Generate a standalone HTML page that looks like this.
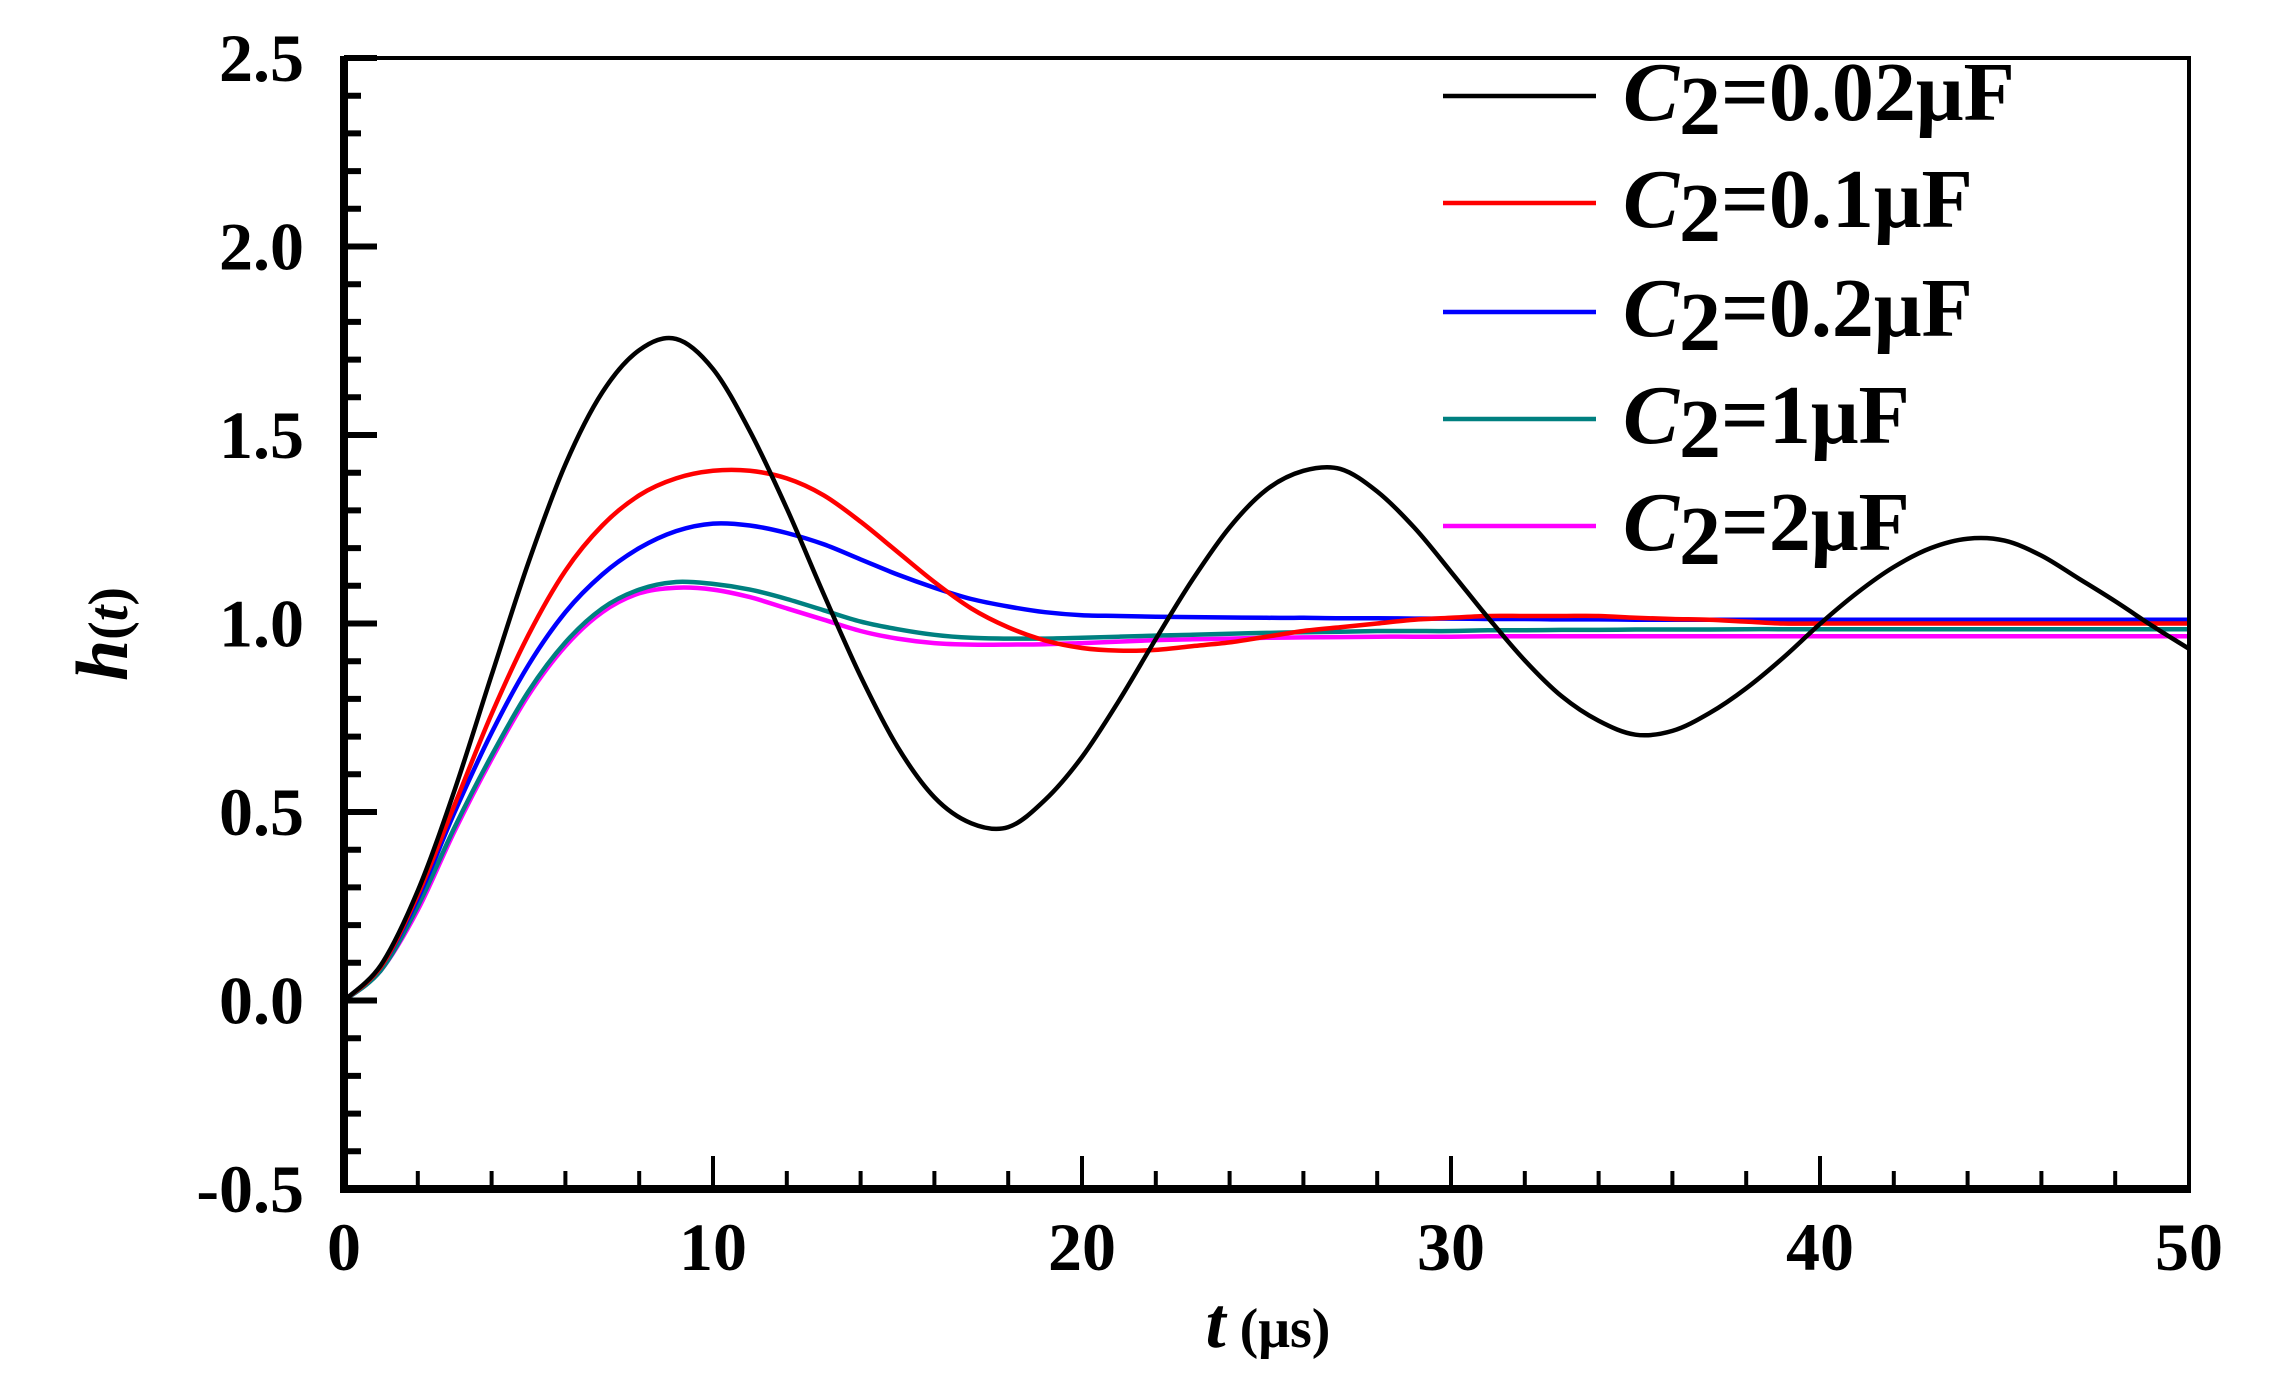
<!DOCTYPE html>
<html><head><meta charset="utf-8"><style>
html,body{margin:0;padding:0;background:#fff;}
svg{display:block;}
text{font-family:"Liberation Serif",serif;font-weight:bold;fill:#000;}
</style></head><body>
<svg id="chart" width="2275" height="1384" viewBox="0 0 2275 1384" xmlns="http://www.w3.org/2000/svg">
<g id="plot"></g>
<g id="axes"></g>
<text x="1268" y="1347" text-anchor="middle" font-size="72"><tspan font-style="italic">t</tspan><tspan font-size="56"> (μs)</tspan></text>
<text transform="translate(127,634) rotate(-90)" text-anchor="middle" font-size="74"><tspan font-style="italic">h</tspan><tspan font-size="56">(</tspan><tspan font-size="56" font-style="italic">t</tspan><tspan font-size="56">)</tspan></text>
<g id="legend"></g>
</svg>
<script>
const tValues = [];
for (let i = 0; i <= 50; i++) tValues.push(i);
const seriesNames = ["0.02μF","0.1μF","0.2μF","1μF","2μF"];
const seriesColors = ["#000000","#ff0000","#0000ff","#008080","#ff00ff"];
const blackValues = [0,0.094,0.291,0.559,0.863,1.162,1.422,1.613,1.725,1.755,1.675,1.51,1.305,1.078,0.860,0.673,0.539,0.470,0.460,0.532,0.646,0.795,0.959,1.117,1.255,1.355,1.405,1.41,1.35,1.255,1.137,1.016,0.902,0.807,0.742,0.705,0.715,0.762,0.828,0.909,0.999,1.081,1.150,1.200,1.225,1.22,1.18,1.12,1.059,0.994,0.933];
const redValues = [0,0.09,0.28,0.52,0.76,0.97,1.14,1.26,1.34,1.385,1.405,1.405,1.385,1.34,1.27,1.19,1.11,1.04,0.99,0.955,0.935,0.928,0.93,0.94,0.95,0.965,0.98,0.99,1.0,1.01,1.015,1.02,1.02,1.02,1.02,1.015,1.012,1.01,1.005,1.0,1.0,1.0,1.0,1.0,1.0,1.0,1.0,1.0,1.0,1.0,1.0];
const blueValues = [0,0.09,0.27,0.50,0.71,0.89,1.03,1.13,1.20,1.245,1.265,1.26,1.24,1.21,1.17,1.13,1.095,1.065,1.045,1.03,1.022,1.02,1.018,1.017,1.016,1.015,1.015,1.014,1.014,1.013,1.013,1.012,1.012,1.011,1.011,1.01,1.01,1.01,1.01,1.01,1.01,1.01,1.01,1.01,1.01,1.01,1.01,1.01,1.01,1.01,1.01];
const tealValues = [0,0.08,0.25,0.46,0.65,0.82,0.95,1.04,1.09,1.11,1.105,1.09,1.065,1.035,1.005,0.985,0.97,0.962,0.96,0.96,0.962,0.965,0.968,0.97,0.973,0.975,0.977,0.978,0.98,0.98,0.98,0.982,0.982,0.983,0.983,0.984,0.984,0.984,0.985,0.985,0.985,0.985,0.985,0.985,0.985,0.985,0.985,0.985,0.985,0.985,0.985];
const magentaValues = [0,0.08,0.24,0.45,0.64,0.81,0.94,1.03,1.08,1.095,1.09,1.07,1.04,1.01,0.98,0.96,0.948,0.944,0.944,0.945,0.948,0.952,0.956,0.958,0.96,0.962,0.963,0.964,0.965,0.965,0.965,0.966,0.966,0.966,0.966,0.966,0.966,0.966,0.966,0.966,0.966,0.966,0.966,0.966,0.966,0.966,0.966,0.966,0.966,0.966,0.966];
const xTickLabels = ["0","10","20","30","40","50"];
const yTickLabels = ["-0.5","0.0","0.5","1.0","1.5","2.0","2.5"];

const NS = "http://www.w3.org/2000/svg";
const X0 = 344, X1 = 2189, Ytop = 58, Ybot = 1189;
const xMin = 0, xMax = 50, yMin = -0.5, yMax = 2.5;
function xs(t){ return X0 + (t - xMin) / (xMax - xMin) * (X1 - X0); }
function ys(v){ return Ybot - (v - yMin) / (yMax - yMin) * (Ybot - Ytop); }
function mk(tag, attrs, parent){ const e = document.createElementNS(NS, tag); for (const k in attrs) e.setAttribute(k, attrs[k]); parent.appendChild(e); return e; }

const plot = document.getElementById('plot');
const allSeries = [blackValues, redValues, blueValues, tealValues, magentaValues];
function smoothPath(pts){
  let d = "M" + pts[0][0].toFixed(1) + "," + pts[0][1].toFixed(1);
  for (let i = 0; i < pts.length - 1; i++) {
    const p0 = pts[Math.max(0, i-1)], p1 = pts[i], p2 = pts[i+1], p3 = pts[Math.min(pts.length-1, i+2)];
    const c1 = [p1[0] + (p2[0]-p0[0])/6, p1[1] + (p2[1]-p0[1])/6];
    const c2 = [p2[0] - (p3[0]-p1[0])/6, p2[1] - (p3[1]-p1[1])/6];
    d += " C" + c1[0].toFixed(1) + "," + c1[1].toFixed(1) + " " + c2[0].toFixed(1) + "," + c2[1].toFixed(1) + " " + p2[0].toFixed(1) + "," + p2[1].toFixed(1);
  }
  return d;
}
[4,3,2,1,0].forEach(function(si){
  const pts = tValues.map(function(t, i){ return [xs(t), ys(allSeries[si][i])]; });
  const p = mk('path', {d: smoothPath(pts), fill: 'none', stroke: seriesColors[si], 'stroke-width': 4.5, 'stroke-linejoin': 'round'}, plot);
  
  
});

const axes = document.getElementById('axes');
const frame = mk('rect', {x: X0, y: Ytop, width: X1 - X0, height: Ybot - Ytop, fill: 'none', stroke: '#000', 'stroke-width': 4}, axes);


const yAxisLine = mk('line', {x1: X0, y1: Ytop - 2, x2: X0, y2: Ybot + 4, stroke: '#000', 'stroke-width': 8}, axes);


const xAxisLine = mk('line', {x1: X0 - 4, y1: Ybot, x2: X1 + 2, y2: Ybot, stroke: '#000', 'stroke-width': 8}, axes);



for (let v = 0; v <= 30; v++) {
  const yy = ys(yMin + v * 0.1);
  const major = v % 5 === 0;
  const tk = mk('line', {x1: X0, y1: yy, x2: X0 + (major ? 33 : 17), y2: yy, stroke: '#000', 'stroke-width': 6}, axes);
  
  
}
yTickLabels.forEach(function(lab, i){
  const tx = mk('text', {x: 304, y: ys(yMin + i * 0.5) + 23, 'text-anchor': 'end', 'font-size': 68}, axes);
  tx.textContent = lab;
  
  
});
for (let t = 0; t <= 50; t += 2) {
  const xx = xs(t);
  const major = t % 10 === 0;
  const tk = mk('line', {x1: xx, y1: Ybot, x2: xx, y2: Ybot - (major ? 33 : 18), stroke: '#000', 'stroke-width': 4}, axes);
  
  
}
xTickLabels.forEach(function(lab, i){
  const tx = mk('text', {x: xs(i * 10), y: 1270, 'text-anchor': 'middle', 'font-size': 68}, axes);
  tx.textContent = lab;
  
  
});

const legend = document.getElementById('legend');
const rowY = [96, 203, 312, 419, 526];
seriesNames.forEach(function(name, i){
  const g = mk('g', {}, legend);
  
  
  mk('line', {x1: 1443, y1: rowY[i], x2: 1596, y2: rowY[i], stroke: seriesColors[i], 'stroke-width': 4.5}, g);
  const tx = mk('text', {x: 1623, y: rowY[i] + 24, 'font-size': 84}, g);
  const c = document.createElementNS(NS, 'tspan'); c.setAttribute('font-style', 'italic'); c.textContent = 'C'; tx.appendChild(c);
  const s = document.createElementNS(NS, 'tspan'); s.setAttribute('dy', '14'); s.textContent = '2'; tx.appendChild(s);
  const r = document.createElementNS(NS, 'tspan'); r.setAttribute('dy', '-14'); r.textContent = '=' + name; tx.appendChild(r);
});
</script>
</body></html>
